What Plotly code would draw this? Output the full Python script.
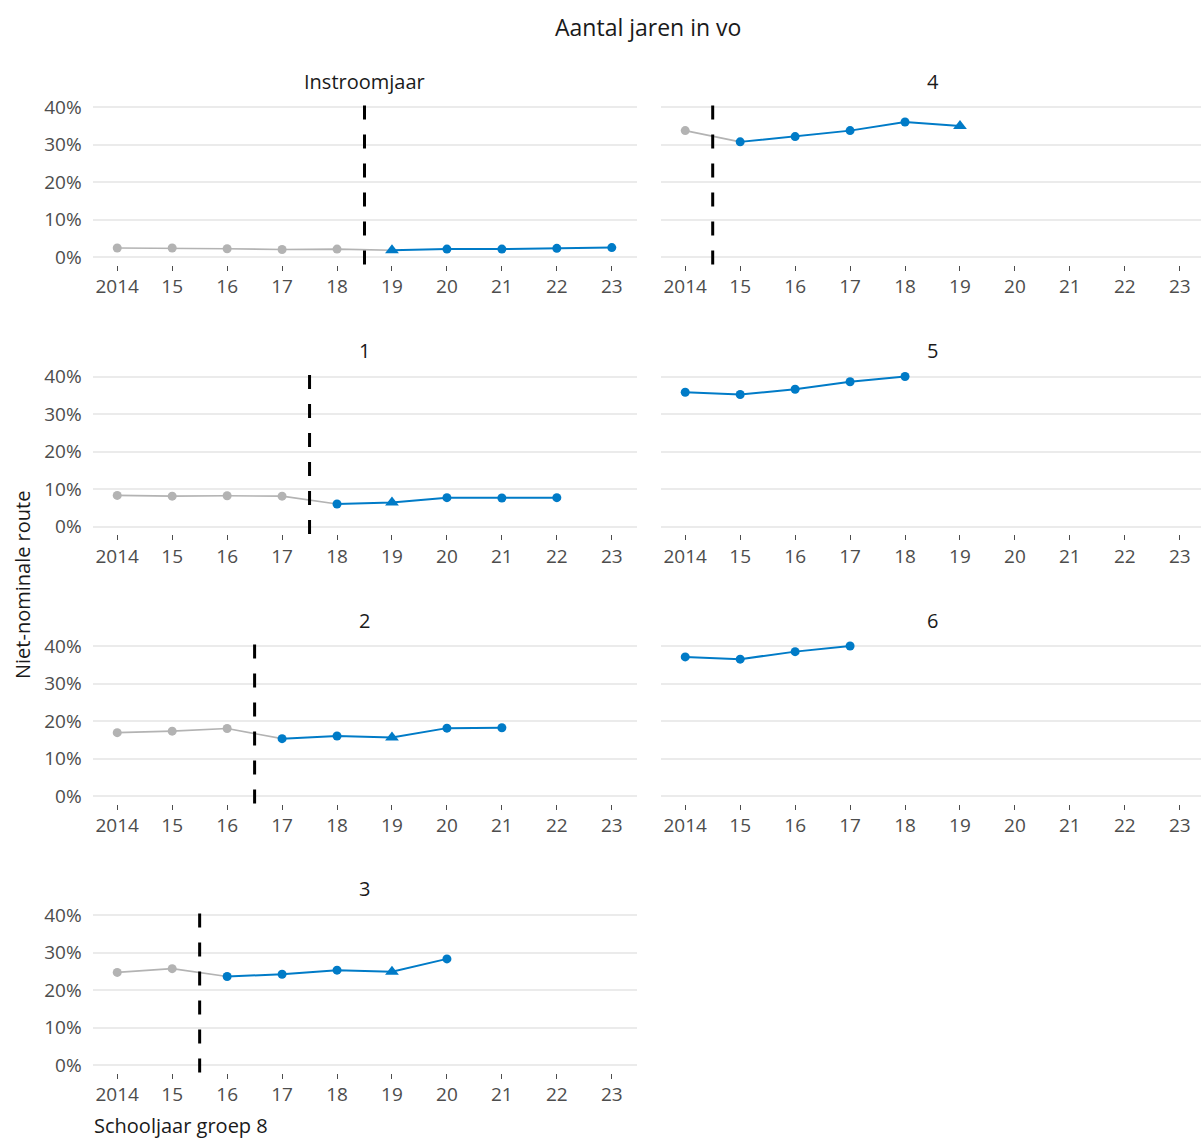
import plotly.graph_objects as go

# ---------------- data ----------------
years = [2014, 2015, 2016, 2017, 2018, 2019, 2020, 2021, 2022, 2023]
year_labels = ["2014", "15", "16", "17", "18", "19", "20", "21", "22", "23"]
pct_ticks = [0, 10, 20, 30, 40]
pct_labels = ["0%", "10%", "20%", "30%", "40%"]

panel_titles = ["Instroomjaar", "1", "2", "3", "4", "5", "6"]
instroomjaar = [2.4, 2.4, 2.2, 2.0, 2.1, 1.8, 2.1, 2.1, 2.3, 2.5]
jaar1 = [8.3, 8.1, 8.2, 8.1, 6.0, 6.4, 7.7, 7.6, 7.7, None]
jaar2 = [16.9, 17.3, 18.0, 15.3, 16.0, 15.6, 18.1, 18.2, None, None]
jaar3 = [24.7, 25.7, 23.6, 24.2, 25.3, 24.9, 28.3, None, None, None]
jaar4 = [33.7, 30.7, 32.1, 33.7, 36.0, 34.9, None, None, None, None]
jaar5 = [35.8, 35.2, 36.6, 38.6, 40.0, None, None, None, None, None]
jaar6 = [37.1, 36.5, 38.5, 40.0, None, None, None, None, None, None]
panel_values = [instroomjaar, jaar1, jaar2, jaar3, jaar4, jaar5, jaar6]

first_blue_year = [2019, 2018, 2017, 2016, 2015, 2014, 2014]
cutoff_years = [2018.5, 2017.5, 2016.5, 2015.5, 2014.5, None, None]
triangle_year = 2019

# ---------------- layout helpers ----------------
W, H = 1201, 1142
panel_pos = [(0, 0), (1, 0), (2, 0), (3, 0), (0, 1), (1, 1), (2, 1)]
col_px = [(92.5, 636.5), (660.5, 1201.0)]
row_px = [(99.5, 264.5), (369.0, 534.0), (638.5, 803.5), (907.5, 1072.5)]
px_per_year = (col_px[0][1] - col_px[0][0]) / 9.9
x_ranges = [
    [2013.55, 2023.45],
    [2013.55, 2013.55 + (col_px[1][1] - col_px[1][0]) / px_per_year],
]

BLUE = "#007BC7"
GREY = "#B3B3B3"
FONT = "Open Sans"
TICKCOL = "#4D4D4D"

fig = go.Figure()
layout = dict(
    template="none",
    width=W, height=H, autosize=False,
    margin=dict(l=0, r=0, t=0, b=0, pad=0, autoexpand=False),
    paper_bgcolor="white", plot_bgcolor="white",
    showlegend=False,
    font=dict(family=FONT, color="#1a1a1a"),
)
shapes = []
annotations = []

for i, (title, vals) in enumerate(zip(panel_titles, panel_values)):
    r, c = panel_pos[i]
    n = i + 1
    xa = "x" if n == 1 else f"x{n}"
    ya = "y" if n == 1 else f"y{n}"
    xkey = "xaxis" if n == 1 else f"xaxis{n}"
    ykey = "yaxis" if n == 1 else f"yaxis{n}"
    x0, x1 = col_px[c]
    ytop, ybot = row_px[r]
    layout[xkey] = dict(
        domain=[x0 / W, x1 / W], anchor=ya, range=x_ranges[c],
        automargin=False,
        showgrid=False, zeroline=False, showline=False,
        tickmode="array", tickvals=years, ticktext=year_labels,
        ticks="outside", ticklen=5, tickwidth=1, tickcolor=TICKCOL,
        tickfont=dict(family=FONT, size=19, color=TICKCOL),
        fixedrange=True,
    )
    layout[ykey] = dict(
        domain=[1 - ybot / H, 1 - ytop / H], anchor=xa, range=[-2, 42],
        automargin=False,
        showgrid=True, gridcolor="#EBEBEB", gridwidth=2,
        zeroline=False, showline=False,
        tickmode="array", tickvals=pct_ticks, ticktext=pct_labels,
        ticks="outside", ticklen=6, tickcolor="rgba(0,0,0,0)",
        showticklabels=(c == 0),
        tickfont=dict(family=FONT, size=19, color=TICKCOL),
        fixedrange=True,
    )

    fb = first_blue_year[i]
    gx = [y for y, v in zip(years, vals) if v is not None and y <= fb]
    gy = [v for y, v in zip(years, vals) if v is not None and y <= fb]
    bx = [y for y, v in zip(years, vals) if v is not None and y >= fb]
    by = [v for y, v in zip(years, vals) if v is not None and y >= fb]

    if len(gx) > 1:
        fig.add_trace(go.Scatter(x=gx, y=gy, mode="lines",
                                 line=dict(color=GREY, width=1.6),
                                 xaxis=xa, yaxis=ya, hoverinfo="skip"))
        fig.add_trace(go.Scatter(x=gx[:-1], y=gy[:-1], mode="markers",
                                 marker=dict(color=GREY, size=9, symbol="circle",
                                             opacity=1, line=dict(width=0)),
                                 xaxis=xa, yaxis=ya))
    symbols = ["triangle-up" if y == triangle_year else "circle" for y in bx]
    sizes = [12 if y == triangle_year else 9 for y in bx]
    fig.add_trace(go.Scatter(x=bx, y=by, mode="lines+markers",
                             line=dict(color=BLUE, width=2),
                             marker=dict(color=BLUE, size=sizes, symbol=symbols,
                                         opacity=1, line=dict(width=0)),
                             xaxis=xa, yaxis=ya))

    if cutoff_years[i] is not None:
        shapes.append(dict(type="line", xref=xa, yref=f"{ya} domain",
                           x0=cutoff_years[i], x1=cutoff_years[i], y0=0, y1=1,
                           line=dict(color="black", width=3, dash="14px,15px")))

    annotations.append(dict(
        text=title, xref="paper", yref="paper",
        x=((x0 + x0 + px_per_year * 9.9) / 2) / W, y=1 - (ytop - 3) / H,
        xanchor="center", yanchor="bottom", showarrow=False,
        font=dict(family=FONT, size=20, color="#1a1a1a"),
    ))

annotations.append(dict(
    text="Aantal jaren in vo", xref="paper", yref="paper",
    x=648 / W, y=1 - 27 / H, xanchor="center", yanchor="middle",
    showarrow=False, font=dict(family=FONT, size=23, color="#1a1a1a"),
))
annotations.append(dict(
    text="Niet-nominale route", xref="paper", yref="paper",
    x=22 / W, y=1 - 585 / H, xanchor="center", yanchor="middle",
    textangle=-90, showarrow=False,
    font=dict(family=FONT, size=20, color="#1a1a1a"),
))
annotations.append(dict(
    text="Schooljaar groep 8", xref="paper", yref="paper",
    x=92 / W, y=1 - 1125 / H, xanchor="left", yanchor="middle",
    showarrow=False, font=dict(family=FONT, size=20, color="#1a1a1a"),
))

layout["shapes"] = shapes
layout["annotations"] = annotations
fig.update_layout(**layout)
fig.write_html(
    "out.html",
    config={"displayModeBar": False},
    post_script="document.body.style.margin='0';document.body.style.overflow='hidden';",
)
